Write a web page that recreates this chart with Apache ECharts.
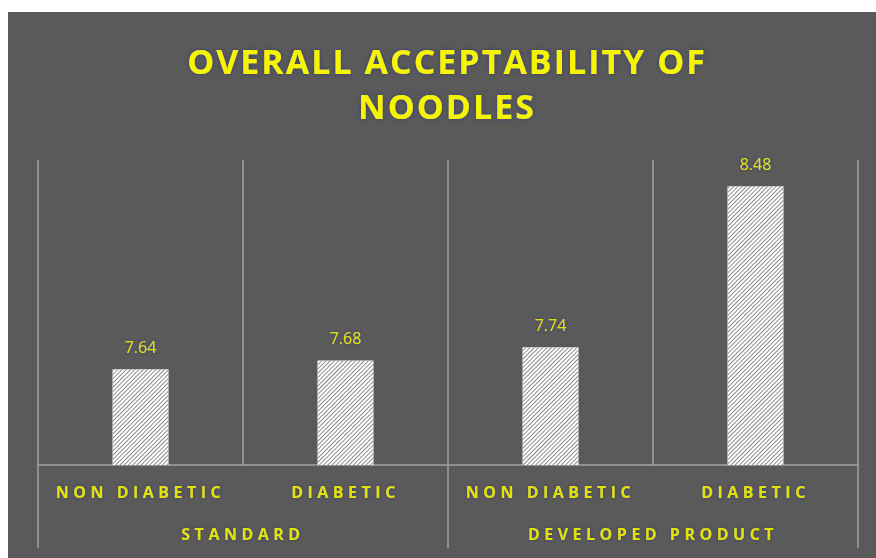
<!DOCTYPE html>
<html>
<head>
<meta charset="utf-8">
<script src="https://cdn.jsdelivr.net/npm/echarts@6/dist/echarts.min.js"></script>
<style>
html,body{margin:0;padding:0;background:#ffffff;width:876px;height:558px;overflow:hidden;}
#chart{position:absolute;left:8px;top:12px;width:868px;height:546px;background:#5a5a5a;}
</style>
</head>
<body>
<div id="chart"></div>
<script>
const titleText = 'OVERALL ACCEPTABILITY OF\nNOODLES';
const categories = ['NON DIABETIC', 'DIABETIC', 'NON DIABETIC', 'DIABETIC'];
const groups = ['STANDARD', 'DEVELOPED PRODUCT'];
const values = [7.64, 7.68, 7.74, 8.48];
const yMin = 7.2, yMax = 8.6;

const chart = echarts.init(document.getElementById('chart'), null, {renderer: 'svg'});
const yellow = '#e3e300';
const glow = 'rgba(50,50,120,0.85)';
const lineCol = '#a3a3a3';

chart.setOption({
  animation: false,
  backgroundColor: '#5a5a5a',
  title: {
    text: titleText,
    left: 434,
    top: 21,
    textAlign: 'center',
    textStyle: {
      color: '#f5f500', fontFamily: 'Open Sans', fontWeight: 'bold', fontSize: 34,
      lineHeight: 45, textShadowColor: glow, textShadowBlur: 4
    }
  },
  grid: {left: 30, right: 18, top: 148, bottom: 93},
  xAxis: [{
    type: 'category',
    data: categories,
    axisLine: {show: true, lineStyle: {color: lineCol, width: 1.5}},
    axisTick: {show: false},
    splitLine: {show: true, lineStyle: {color: lineCol, width: 1.5}},
    axisLabel: {
      interval: 0, margin: 19, color: yellow, fontFamily: 'Open Sans', fontWeight: 'bold', fontSize: 16,
      textShadowColor: glow, textShadowBlur: 3
    }
  }, {
    type: 'category',
    data: groups,
    position: 'bottom',
    axisLine: {show: false},
    axisTick: {show: true, length: 83, lineStyle: {color: lineCol, width: 1.5}},
    splitLine: {show: false},
    axisLabel: {
      interval: 0, margin: 61, color: yellow, fontFamily: 'Open Sans', fontWeight: 'bold', fontSize: 16,
      textShadowColor: glow, textShadowBlur: 3
    }
  }],
  yAxis: {
    type: 'value', min: yMin, max: yMax, show: false, splitLine: {show: false}
  },
  series: [{
    type: 'bar',
    xAxisIndex: 0,
    data: values,
    barWidth: 56,
    itemStyle: {
      color: '#ffffff',
      decal: {symbol: 'rect', symbolSize: 1, dashArrayX: [1, 0], dashArrayY: [1, 2], rotation: -Math.PI / 4, color: '#8c8c8c', backgroundColor: '#f6f6f6'}
    },
    label: {
      show: true, position: 'top', distance: 14, color: yellow, fontFamily: 'Open Sans', fontSize: 16,
      formatter: p => p.value.toFixed(2), textShadowColor: glow, textShadowBlur: 3
    }
  }]
});

function applySpacing() {
  chart.getDom().querySelectorAll('text').forEach(t => {
    const s = t.textContent;
    if (categories.includes(s) || groups.includes(s)) t.style.letterSpacing = '4.5px';
    else if (s.indexOf('OVERALL') === 0 || s === 'NOODLES') t.style.letterSpacing = '2px';
  });
}
applySpacing();
chart.on('finished', applySpacing);
</script>
</body>
</html>
